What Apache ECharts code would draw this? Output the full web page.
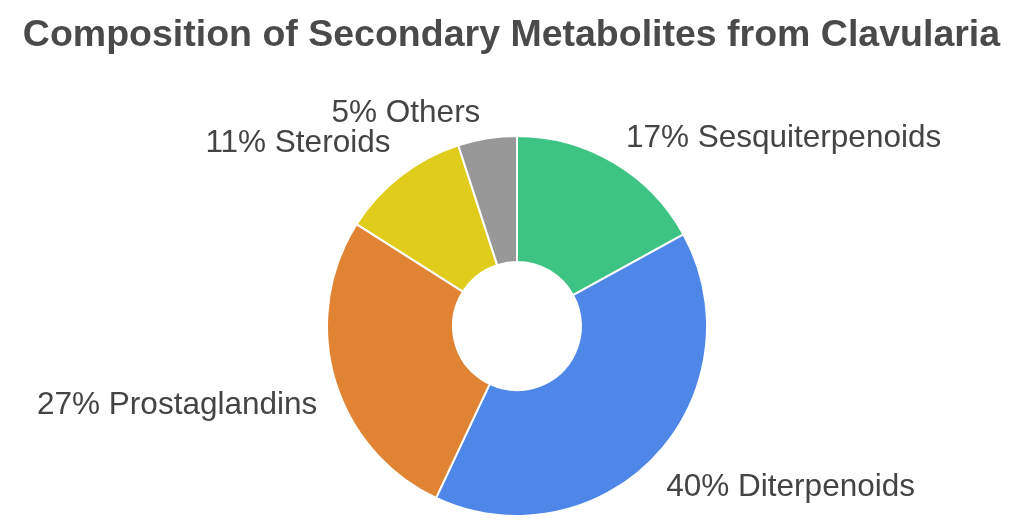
<!DOCTYPE html>
<html>
<head>
<meta charset="utf-8">
<script src="https://cdn.jsdelivr.net/npm/echarts@6/dist/echarts.min.js"></script>
<style>
	html, body { margin: 0; padding: 0; background: #fff; }
	#chart-box { width: 1023px; height: 522px; }
</style>
</head>
<body>
<div id="chart-box"></div>
<script>
let categories = ["Sesquiterpenoids", "Diterpenoids", "Prostaglandins", "Steroids", "Others"]
let shares = [17, 40, 27, 11, 5]
let colors = ["#3DC485", "#4F87E8", "#E08434", "#E0CC1A", "#989898"]

// label line lengths [radial, horizontal], only used to place the text
let labelNudge = {
	Sesquiterpenoids: [28, -2],
	Diterpenoids: [45, -22],
	Prostaglandins: [93, -72],
	Steroids: [41, -15],
	Others: [25, 3]
}

let chart = echarts.init(document.getElementById("chart-box"))

let option = {
	title: {
		text: "Composition of Secondary Metabolites from Clavularia",
		left: "center",
		top: 12,
		textStyle: {
			fontFamily: "Liberation Sans",
			fontSize: 37.5,
			fontWeight: "bold",
			color: "#4a4a4a"
		}
	},
	series: [
		{
			type: "pie",
			center: [517, 326],
			radius: [64, 190],
			startAngle: 90,
			clockwise: true,
			avoidLabelOverlap: false,
			labelLayout: {
				hideOverlap: false
			},
			itemStyle: {
				borderColor: "#fff",
				borderWidth: 2
			},
			label: {
				show: true,
				position: "outside",
				distanceToLabelLine: 0,
				overflow: "none",
				fontFamily: "Liberation Sans",
				fontSize: 31.5,
				lineHeight: 26,
				color: "#444",
				formatter: function (p) {
					return p.value + "% " + p.name
				}
			},
			labelLine: {
				show: false
			},
			emphasis: { disabled: true },
			data: categories.map(function (name, i) {
				return {
					name: name,
					value: shares[i],
					itemStyle: { color: colors[i] },
					labelLine: {
						show: false,
						length: labelNudge[name][0],
						length2: labelNudge[name][1]
					}
				}
			})
		}
	],
	animation: false
}
chart.setOption(option)
</script>
</body>
</html>
